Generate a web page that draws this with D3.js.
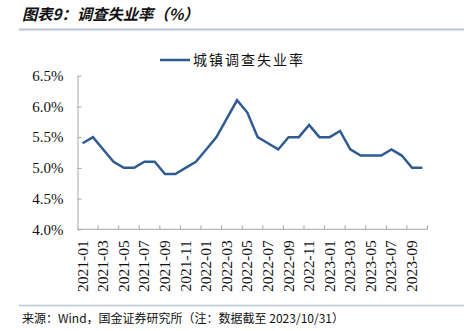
<!DOCTYPE html>
<html><head><meta charset="utf-8">
<script src="https://cdn.jsdelivr.net/npm/d3@7"></script>
<style>
html,body{margin:0;padding:0;background:#fff;}
svg{display:block;}
.serif{font-family:"Liberation Serif","Times New Roman","DejaVu Serif",serif;}
</style>
</head><body>
<script>
const months = ["2021-01","2021-02","2021-03","2021-04","2021-05","2021-06","2021-07","2021-08","2021-09","2021-10","2021-11","2021-12",
"2022-01","2022-02","2022-03","2022-04","2022-05","2022-06","2022-07","2022-08","2022-09","2022-10","2022-11","2022-12",
"2023-01","2023-02","2023-03","2023-04","2023-05","2023-06","2023-07","2023-08","2023-09","2023-10"];
const unemployment = [5.4,5.5,5.3,5.1,5.0,5.0,5.1,5.1,4.9,4.9,5.0,5.1,
5.3,5.5,5.8,6.1,5.9,5.5,5.4,5.3,5.5,5.5,5.7,5.5,
5.5,5.6,5.3,5.2,5.2,5.2,5.3,5.2,5.0,5.0];
const yTicks = [4.0,4.5,5.0,5.5,6.0,6.5];
const seriesName = "城镇调查失业率";
const titleText = "图表9：调查失业率（%）";
const sourceText = "来源：Wind，国金证券研究所（注：数据截至 2023/10/31）";

const W = 464, H = 331;
const svg = d3.select("body").append("svg").attr("width", W).attr("height", H);

// title
svg.append("text").attr("x", 22).attr("y", 20)
  .attr("font-family", "'Noto Sans CJK SC'").attr("font-size", 15.3).attr("font-weight", "bold")
  .attr("font-style", "italic").attr("fill", "#111").text(titleText);
svg.append("line").attr("x1", 19).attr("x2", W).attr("y1", 29.5).attr("y2", 29.5)
  .attr("stroke", "#b4c6d8").attr("stroke-width", 2);

// scales
const x = d3.scaleBand().domain(months).range([77.5, 427.5]).padding(0);
const y = d3.scaleLinear().domain([4.0, 6.5]).range([229.3, 75.7]);
const bw = x.bandwidth();

// y axis
const yAxis = d3.axisLeft(y).tickValues(yTicks).tickSizeInner(-4).tickSizeOuter(0).tickPadding(14)
  .tickFormat(d => d3.format(".1f")(d) + "%");
const gy = svg.append("g").attr("transform", "translate(77.5,0)").call(yAxis);
gy.attr("font-family", null).attr("font-size", null);
gy.selectAll("path,line").attr("stroke", "#a6a6a6");
gy.selectAll("text").attr("class", "serif").attr("font-size", 15).attr("fill", "#111");

// x axis
const gx = svg.append("g");
gx.append("line").attr("x1", x.range()[0]).attr("x2", x.range()[1]).attr("y1", y(4)).attr("y2", y(4))
  .attr("stroke", "#a6a6a6");
const tickMonths = months.filter((m, i) => i % 2 === 0 && i > 0);
gx.selectAll("line.tk").data(tickMonths).join("line").attr("class", "tk")
  .attr("x1", d => x(d)).attr("x2", d => x(d)).attr("y1", y(4)).attr("y2", y(4) - 4)
  .attr("stroke", "#a6a6a6");
gx.append("line").attr("x1", x.range()[1]).attr("x2", x.range()[1]).attr("y1", y(4)).attr("y2", y(4) - 4)
  .attr("stroke", "#a6a6a6");
const labelMonths = months.filter((m, i) => i % 2 === 0);
gx.selectAll("text").data(labelMonths).join("text")
  .attr("class", "serif")
  .attr("transform", d => `translate(${x(d) + bw / 2 + 5},${y(4) + 11}) rotate(-90)`)
  .attr("text-anchor", "end")
  .attr("font-size", 15.5).attr("fill", "#111")
  .text(d => d);

// line
const line = d3.line().x((d, i) => x(months[i]) + bw / 2).y(d => y(d));
svg.append("path").datum(unemployment).attr("d", line)
  .attr("fill", "none").attr("stroke", "#2f5b93").attr("stroke-width", 2.5).attr("stroke-linejoin", "miter");

// legend
svg.append("line").attr("x1", 160).attr("x2", 190).attr("y1", 60).attr("y2", 60)
  .attr("stroke", "#2f5b93").attr("stroke-width", 2.5);
svg.append("text").attr("x", 193).attr("y", 65)
  .attr("font-family", "'Noto Sans CJK SC'").attr("font-size", 14).attr("letter-spacing", 2)
  .attr("fill", "#111").text(seriesName);

// footer
svg.append("line").attr("x1", 19).attr("x2", W).attr("y1", 305.5).attr("y2", 305.5)
  .attr("stroke", "#b4c6d8").attr("stroke-width", 1.5);
svg.append("text").attr("x", 22).attr("y", 323)
  .attr("font-family", "'Noto Sans CJK SC'").attr("font-size", 12).attr("fill", "#111")
  .text(sourceText);
</script>
</body></html>
